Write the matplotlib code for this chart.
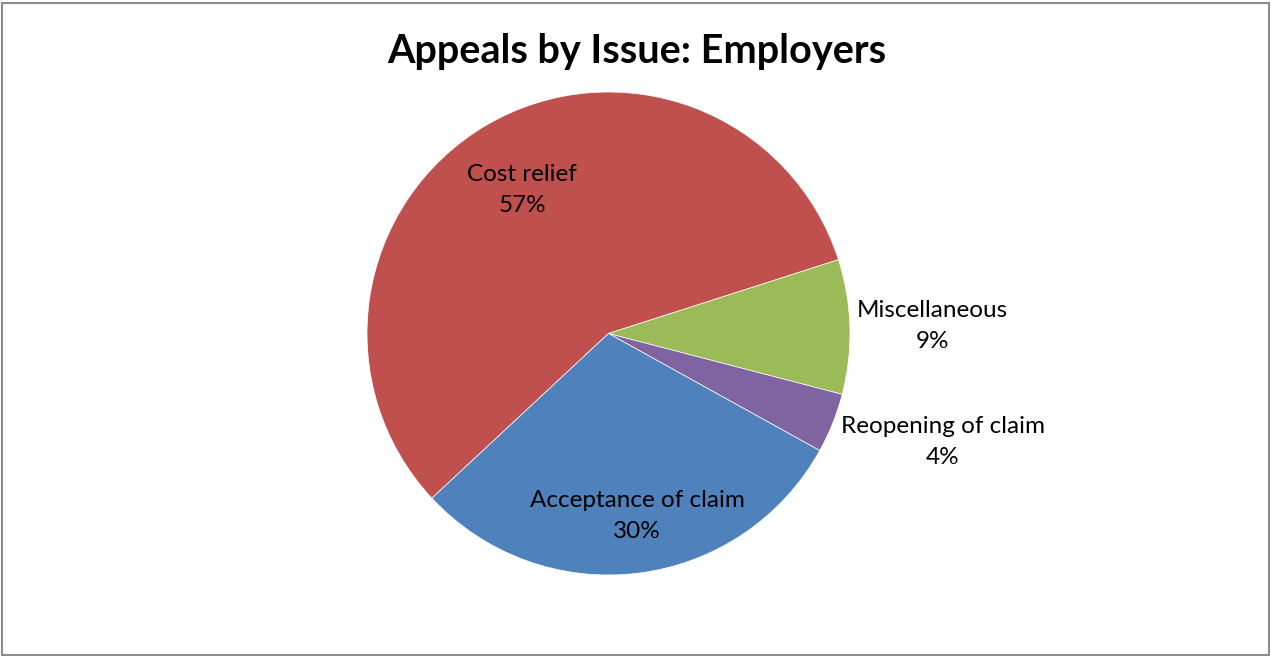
import matplotlib

matplotlib.use('Agg')
import matplotlib.pyplot as plt
from matplotlib.patches import Rectangle

plt.rcParams['font.family'] = ['Lato', 'DejaVu Sans']

# Appeal issues raised by employers
issues = ['Cost relief', 'Miscellaneous', 'Reopening of claim', 'Acceptance of claim']
shares = [57, 9, 4, 30]
colors = ['#C0504D', '#9BBB59', '#8064A2', '#4F81BD']

# label anchor points, in units of the pie radius
label_xy = [(-0.358, 0.594), (1.34, 0.031), (1.385, -0.449), (0.118, -0.756)]

W, H = 1271, 656
fig = plt.figure(figsize=(W / 100, H / 100), dpi=100)

# pie centre and radius in pixels
cx, cy, r = 608.5, H - 333.5, 241.5
pad = 1.6
ax = fig.add_axes([(cx - pad * r) / W, (cy - pad * r) / H, 2 * pad * r / W, 2 * pad * r / H])

ax.pie(shares, colors=colors, startangle=223, counterclock=False, radius=1,
       wedgeprops=dict(linewidth=0.5, edgecolor='white'))
ax.set_xlim(-pad, pad)
ax.set_ylim(-pad, pad)
ax.set_aspect('equal')
ax.axis('off')

total = sum(shares)
for name, v, (x, y) in zip(issues, shares, label_xy):
    ax.text(x, y, f'{name}\n{v / total * 100:.0f}%', ha='center', va='center',
            fontsize=17.5, linespacing=1.55, color='black')

fig.text(636.5 / W, 1 - 52 / H, 'Appeals by Issue: Employers', ha='center', va='center',
         fontsize=28.5, fontweight='bold')

# chart area border
fig.patches.append(Rectangle((1.5 / W, 1.5 / H), (W - 4) / W, (H - 4) / H,
                             transform=fig.transFigure, fill=False,
                             edgecolor='#8c8c8c', linewidth=1.5))

fig.savefig('out.png', dpi=100)
